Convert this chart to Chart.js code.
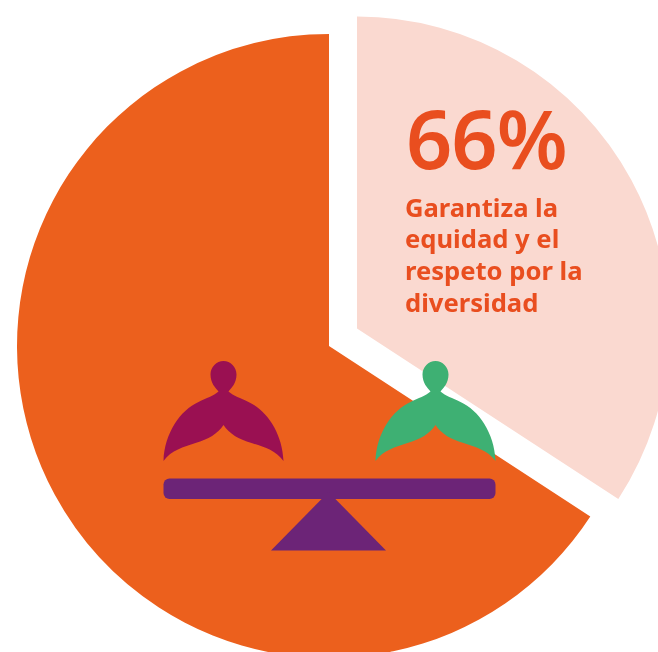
<!DOCTYPE html>
<html lang="es">
<head>
<meta charset="utf-8">
<script src="https://cdn.jsdelivr.net/npm/chart.js@4/dist/chart.umd.min.js"></script>
<style>
html,body{margin:0;padding:0;background:#fff;width:658px;height:652px;overflow:hidden}
#wrap{position:relative;width:658px;height:652px;overflow:hidden}
canvas{position:absolute;left:0;top:0}
svg{position:absolute;left:0;top:0}
.big{position:absolute;left:406px;top:97px;font:600 81px/1 "Noto Sans",sans-serif;letter-spacing:-1px;color:#E94E1F;white-space:nowrap}
.txt{position:absolute;left:405px;top:191.5px;font:700 25.6px/31.8px "Noto Sans",sans-serif;color:#E94E1F;white-space:nowrap}
</style>
</head>
<body>
<div id="wrap">
<canvas id="c" width="658" height="652"></canvas>
<svg width="658" height="652" viewBox="0 0 658 652">
  <defs>
    <path id="person" d="M-5 391.5C-8 388-13 383-13 374.5C-13 367-7 361 0 361C7 361 13 367 13 374.5C13 383 8 388 5 391.5C10 396 17 398 25 402C43 410 59 433 60 461C52 450 40 447 28 443C15 439 6 434 0 425C-6 434-15 439-28 443C-40 447-52 450-60 461C-59 433-43 410-25 402C-17 398-10 396-5 391.5Z"/>
  </defs>
  <use href="#person" x="223.5" fill="#9A1052"/>
  <use href="#person" x="435.5" fill="#3EB073"/>
  <rect x="163.5" y="478.5" width="332" height="20.5" rx="6" fill="#6C2477"/>
  <path d="M328.5 492L386 550.5H271Z" fill="#6C2477"/>
</svg>
<div class="big">66%</div>
<div class="txt">Garantiza la<br>equidad y el<br>respeto por la<br>diversidad</div>
</div>
<script>
const categories = ["Garantiza la equidad y el respeto por la diversidad", "Resto"];
const seriesValues = [34.2, 65.8];
const sliceColors = ["#FAD9D0", "#EC601D"];
const explodeShift = { x: 28, y: -17.5 };

const explodePlugin = {
  id: "explodeFirst",
  afterDatasetsUpdate(chart) {
    const arc = chart.getDatasetMeta(0).data[0];
    arc.x += explodeShift.x;
    arc.y += explodeShift.y;
  }
};

new Chart(document.getElementById("c"), {
  type: "pie",
  data: {
    labels: categories,
    datasets: [{
      data: seriesValues,
      backgroundColor: sliceColors,
      borderWidth: 0,
      hoverOffset: 0,
      clip: false
    }]
  },
  options: {
    responsive: false,
    animation: false,
    radius: 312,
    layout: { padding: { top: 40 } },
    events: [],
    plugins: { legend: { display: false }, tooltip: { enabled: false } }
  },
  plugins: [explodePlugin]
});
</script>
</body>
</html>
